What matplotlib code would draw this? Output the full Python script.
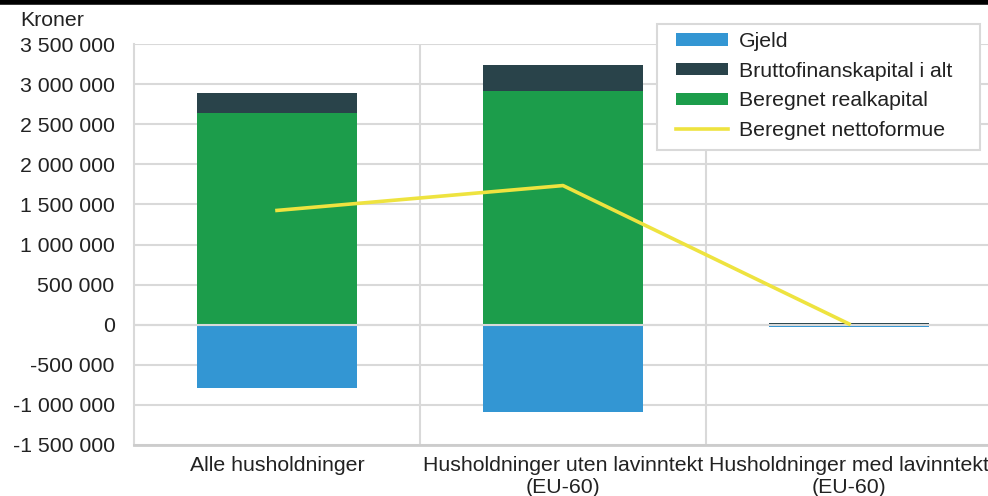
import matplotlib
matplotlib.use("Agg")
import matplotlib.pyplot as plt
from matplotlib.lines import Line2D
from matplotlib.patches import Rectangle
import numpy as np

plt.rcParams['font.family'] = ['Liberation Sans', 'DejaVu Sans']

# data (kroner)
categories = ["Alle husholdninger",
              "Husholdninger uten lavinntekt\n(EU-60)",
              "Husholdninger med lavinntekt\n(EU-60)"]
gjeld = [-790000, -1090000, -30000]
bruttofinans = [250000, 325000, 25000]
realkapital = [2640000, 2910000, 0]
nettoformue = [1425000, 1735000, 10000]

yticks = list(range(-1500000, 3500001, 500000))

c_gjeld = "#3396d3"
c_finans = "#29434a"
c_real = "#1c9d4b"
c_netto = "#eee33f"
grid_c = "#d9d9d9"
txt_c = "#222222"

fig = plt.figure(figsize=(9.88, 4.96), dpi=100)
ax = fig.add_axes([134 / 988, 1 - 445 / 496, 858 / 988, (445 - 44) / 496])

x = np.arange(len(categories))
w = 0.56
h_gjeld = ax.bar(x, gjeld, w, color=c_gjeld, zorder=3)
h_real = ax.bar(x, realkapital, w, color=c_real, zorder=3)
h_fin = ax.bar(x, bruttofinans, w, bottom=realkapital, color=c_finans, zorder=3)
h_net, = ax.plot(x, nettoformue, color=c_netto, lw=2.6, zorder=5)

ax.axhline(0, color=grid_c, lw=1.5, zorder=4)

ax.set_xlim(-0.5, 2.5)
ax.set_ylim(-1500000, 3500000)
ax.set_yticks(yticks)
ax.set_yticklabels([f"{v:,}".replace(",", " ") for v in yticks])
ax.set_xticks(x)
ax.set_xticklabels(categories)
ax.tick_params(axis="both", length=0, labelsize=15.3, colors=txt_c)
ax.tick_params(axis="y", pad=14)
ax.tick_params(axis="x", pad=8)

ax.yaxis.grid(True, color=grid_c, lw=1.5, zorder=0)
for b in [0.5, 1.5]:
    ax.axvline(b, color=grid_c, lw=1.5, zorder=0)
for s in ["top", "right"]:
    ax.spines[s].set_visible(False)
ax.spines["left"].set_color(grid_c)
ax.spines["left"].set_linewidth(1.5)
ax.spines["bottom"].set_color("#cccccc")
ax.spines["bottom"].set_linewidth(2)

fig.text(20 / 988, 1 - 20 / 496, "Kroner", fontsize=15.3, color=txt_c,
         ha="left", va="center")

# thick rule along the top
fig.add_artist(Line2D([0, 1], [0.996, 0.996], transform=fig.transFigure,
                      color="black", lw=4))

# legend box drawn by hand, legend itself without frame
box = Rectangle((657 / 988, 1 - 150 / 496), (980 - 657) / 988, 126 / 496,
                transform=fig.transFigure, facecolor="white",
                edgecolor=grid_c, lw=1.5, zorder=9, clip_on=False)
ax.add_artist(box)
leg = ax.legend([h_gjeld, h_fin, h_real, h_net],
                ["Gjeld", "Bruttofinanskapital i alt", "Beregnet realkapital",
                 "Beregnet nettoformue"],
                loc="upper left", bbox_to_anchor=(676 / 988, 1 - 32 / 496),
                bbox_transform=fig.transFigure, borderaxespad=0, borderpad=0,
                fontsize=15.3, frameon=False, handlelength=2.45, handleheight=0.5,
                handletextpad=0.5, labelspacing=0.5)
for t in leg.get_texts():
    t.set_color(txt_c)
leg.set_zorder(10)

fig.savefig("out.png", dpi=100)
